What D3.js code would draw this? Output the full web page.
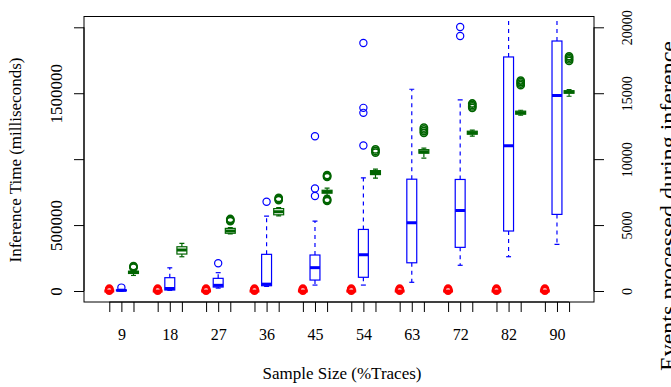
<!DOCTYPE html>
<html>
<head>
<meta charset="utf-8">
<script src="https://cdn.jsdelivr.net/npm/d3@7"></script>
<style>
  body { margin: 0; background: #fff; }
  svg { display: block; font-family: "Liberation Serif", "Times New Roman", serif; }
</style>
</head>
<body>
<svg id="chart" width="671" height="387"></svg>
<script>
// sample sizes (% of traces), one group of three boxes per size
const sampleSizes = ["9", "18", "27", "36", "45", "54", "63", "72", "82", "90"];

// box stats: [lower whisker, Q1, median, Q3, upper whisker]
// red series (left axis, ms) - stays near zero
const redStats = [
  [0, 0, 0, 0, 0], [0, 0, 0, 0, 0], [0, 0, 0, 0, 0], [0, 0, 0, 0, 0], [0, 0, 0, 0, 0],
  [0, 0, 0, 0, 0], [0, 0, 0, 0, 0], [0, 0, 0, 0, 0], [0, 0, 0, 0, 0], [0, 0, 0, 0, 0]
];
const redOutliers = [
  [3000, 10000, 17000], [3000, 10000, 17000], [3000, 10000, 17000], [3000, 10000, 17000], [3000, 10000, 17000],
  [3000, 10000, 17000], [3000, 10000, 17000], [3000, 10000, 17000], [3000, 10000, 17000], [3000, 10000, 17000]
];

// blue series: inference time (left axis, ms)
const blueStats = [
  [1000, 2000, 5000, 8000, 12000],
  [5000, 7500, 19000, 101000, 176000],
  [22000, 30000, 43000, 96000, 139000],
  [35000, 40000, 52000, 278000, 568000],
  [45000, 83000, 177000, 273000, 530000],
  [45000, 104000, 275000, 467000, 858000],
  [66000, 214000, 517000, 848000, 1530000],
  [195000, 331000, 611000, 846000, 1449000],
  [260000, 455000, 1101000, 1775000, 2300000],
  [354000, 581000, 1482000, 1896000, 2400000]
];
const blueOutliers = [
  [26000], [], [210000], [677000], [720000, 778000, 1174000],
  [1104000, 1351000, 1389000, 1881000], [], [1934000, 2002000], [], []
];

// green series: events processed (right axis)
const greenStats = [
  [1180, 1330, 1420, 1500, 1620],
  [2598, 2803, 3106, 3356, 3614],
  [4330, 4380, 4560, 4750, 4800],
  [5700, 5780, 6020, 6250, 6330],
  [7260, 7420, 7530, 7640, 7800],
  [8560, 8830, 8980, 9130, 9240],
  [10080, 10450, 10570, 10720, 10830],
  [11740, 11890, 12010, 12120, 12200],
  [13330, 13410, 13520, 13640, 13710],
  [14770, 15000, 15100, 15190, 15270]
];
const greenOutliers = [
  [1780, 1830, 1880],
  [],
  [5300, 5380, 5460],
  [6900, 6980, 7060],
  [6830, 6900, 6970, 8650, 8720, 8790],
  [10500, 10620, 10740],
  [12000, 12130, 12260, 12390],
  [13890, 14000, 14110, 14220],
  [15610, 15730, 15850, 15960],
  [17450, 17570, 17690, 17800]
];

// axis ticks
const leftTicks = [0, 500000, 1000000, 1500000, 2000000];
const leftTickLabels = ["0", "500000", "", "1500000", ""];
const rightTicks = [0, 5000, 10000, 15000, 20000];
const rightTickLabels = ["0", "5000", "10000", "15000", "20000"];

const plot = { left: 84, right: 594, top: 16.5, bottom: 302 };
const svg = d3.select("#chart");

const x = d3.scaleLinear().domain([-1.09, 41.06]).range([plot.left, plot.right]);
const yLeft = d3.scaleLinear().domain([-83400, 2081900]).range([plot.bottom, plot.top]);
const yRight = d3.scaleLinear().domain([-834, 20819]).range([plot.bottom, plot.top]);

const pos = (g, s) => 4 * g + s + 1;
const boxW = x(0.82) - x(0);

svg.append("clipPath").attr("id", "plotclip")
  .append("rect")
  .attr("x", plot.left).attr("y", plot.top)
  .attr("width", plot.right - plot.left).attr("height", plot.bottom - plot.top);

const marks = svg.append("g").attr("clip-path", "url(#plotclip)");

// draws one boxplot series
function drawSeries(stats, outliers, s, y, color, r, outW) {
  stats.forEach((st, g) => {
    const cx = x(pos(g, s));
    const [lw, q1, med, q3, uw] = st;
    const grp = marks.append("g");
    // whiskers
    grp.append("line").attr("x1", cx).attr("x2", cx).attr("y1", y(q3)).attr("y2", y(uw))
      .attr("stroke", color).attr("stroke-width", 1.2).attr("stroke-dasharray", "4,4");
    grp.append("line").attr("x1", cx).attr("x2", cx).attr("y1", y(q1)).attr("y2", y(lw))
      .attr("stroke", color).attr("stroke-width", 1.2).attr("stroke-dasharray", "4,4");
    // staples
    [lw, uw].forEach(v => {
      grp.append("line").attr("x1", cx - boxW / 4).attr("x2", cx + boxW / 4)
        .attr("y1", y(v)).attr("y2", y(v))
        .attr("stroke", color).attr("stroke-width", 1.2);
    });
    // box
    grp.append("rect")
      .attr("x", cx - boxW / 2).attr("width", boxW)
      .attr("y", y(q3)).attr("height", Math.max(0, y(q1) - y(q3)))
      .attr("fill", "none").attr("stroke", color).attr("stroke-width", 1.2);
    // median
    grp.append("line").attr("x1", cx - boxW / 2).attr("x2", cx + boxW / 2)
      .attr("y1", y(med)).attr("y2", y(med))
      .attr("stroke", color).attr("stroke-width", 3);
    // outliers
    grp.selectAll("circle").data(outliers[g]).enter()
      .append("circle")
      .attr("cx", cx).attr("cy", d => y(d)).attr("r", r)
      .attr("fill", "none").attr("stroke", color).attr("stroke-width", outW);
  });
}

drawSeries(redStats, redOutliers, 0, yLeft, "#ff0000", 3.4, 2);
drawSeries(blueStats, blueOutliers, 1, yLeft, "#0000ff", 3.6, 1.2);
drawSeries(greenStats, greenOutliers, 2, yRight, "#006400", 3.6, 1.6);

// frame
svg.append("rect")
  .attr("x", plot.left).attr("y", plot.top)
  .attr("width", plot.right - plot.left).attr("height", plot.bottom - plot.top)
  .attr("fill", "none").attr("stroke", "#000").attr("stroke-width", 1);

// bottom axis
const bottomTicks = d3.range(sampleSizes.length).flatMap(g => [0, 1, 2].map(s => pos(g, s)));
const xAxis = svg.append("g")
  .attr("transform", `translate(0,${plot.bottom})`)
  .call(d3.axisBottom(x).tickValues(bottomTicks).tickSize(10).tickSizeOuter(0)
    .tickFormat(p => (p - 2) % 4 === 0 ? sampleSizes[(p - 2) / 4] : ""));
xAxis.attr("font-family", null).attr("font-size", null);
xAxis.select(".domain").attr("d", `M${x(bottomTicks[0])},0H${x(bottomTicks[bottomTicks.length - 1])}`);
xAxis.selectAll("text").attr("y", 38).attr("dy", 0).attr("font-size", 16).attr("fill", "#000");

// left axis
const yAxisL = svg.append("g")
  .attr("transform", `translate(${plot.left},0)`)
  .call(d3.axisLeft(yLeft).tickValues(leftTicks).tickSize(10).tickSizeOuter(0)
    .tickFormat((d, i) => leftTickLabels[i]));
yAxisL.attr("font-family", null).attr("font-size", null);
yAxisL.select(".domain").attr("d", `M0,${yLeft(leftTicks[0])}V${yLeft(leftTicks[leftTicks.length - 1])}`);
yAxisL.selectAll("text")
  .attr("x", 0).attr("y", 0).attr("dy", 0)
  .attr("text-anchor", "middle")
  .attr("transform", "translate(-22,0) rotate(-90)")
  .attr("font-size", 17).attr("fill", "#000");

// right axis
const yAxisR = svg.append("g")
  .attr("transform", `translate(${plot.right},0)`)
  .call(d3.axisRight(yRight).tickValues(rightTicks).tickSize(10).tickSizeOuter(0)
    .tickFormat((d, i) => rightTickLabels[i]));
yAxisR.attr("font-family", null).attr("font-size", null);
yAxisR.select(".domain").attr("d", `M0,${yRight(rightTicks[0])}V${yRight(rightTicks[rightTicks.length - 1])}`);
yAxisR.selectAll("text")
  .attr("x", 0).attr("y", 0).attr("dy", 0)
  .attr("text-anchor", "middle")
  .attr("transform", "translate(38,0) rotate(-90)")
  .attr("font-size", 14).attr("fill", "#000");

// titles
svg.append("text")
  .attr("x", 342).attr("y", 379)
  .attr("text-anchor", "middle").attr("font-size", 17)
  .text("Sample Size (%Traces)");

svg.append("text")
  .attr("transform", "translate(20.5,160) rotate(-90)")
  .attr("text-anchor", "middle").attr("font-size", 17)
  .text("Inference Time (milliseconds)");

// right title runs to the edge, as in the source image
svg.append("text")
  .attr("transform", "translate(676,206) rotate(-90)")
  .attr("text-anchor", "middle").attr("font-size", 24)
  .text("Events processed during inference");
</script>
</body>
</html>
